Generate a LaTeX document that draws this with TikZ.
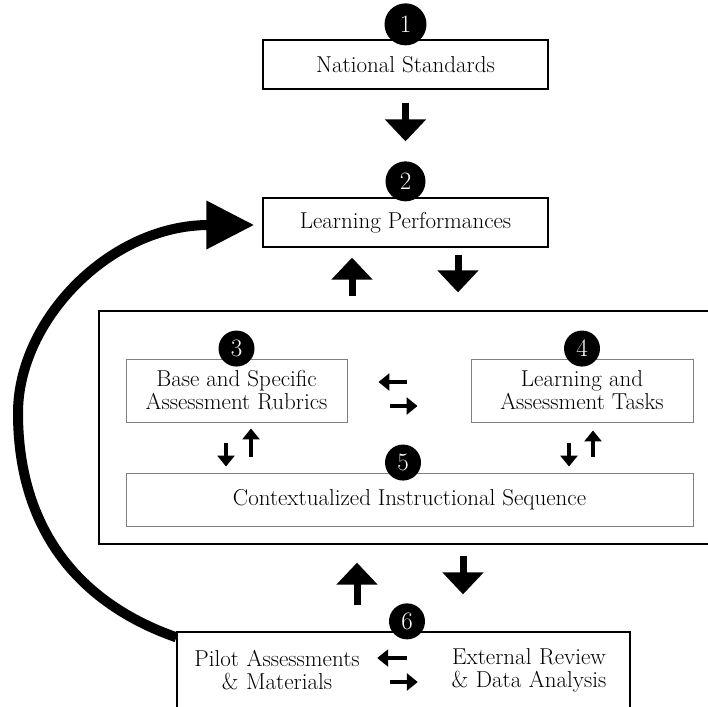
\documentclass[tikz,border=0pt]{standalone}
\usepackage{tikz}
\usetikzlibrary{arrows.meta, positioning, calc}

\begin{document}
\begin{tikzpicture}[
        x=1pt, y=-1pt,
        every node/.style = {font=\fontsize{23}{23}\selectfont},
        mainbox/.style = {rectangle, draw=black, line width=1.3pt, minimum width=285pt, minimum height=49pt, inner sep=0pt},
        subbox/.style = {rectangle, draw=black!50, line width=0.9pt, align=center, inner sep=0pt},
        num/.style = {circle, fill=black, text=white, minimum size=36pt, inner sep=0pt, font=\fontsize{25}{25}\selectfont},
        bigarrow/.style = {line width=7pt, -{Triangle[length=22pt, width=40pt]}},
        smallarrow/.style = {line width=3.5pt, -{Triangle[length=11pt, width=17pt]}},
        backarrow/.style = {line width=10pt, -{Triangle[length=48pt, width=46pt]}}
    ]

    \path[use as bounding box, clip] (0,0) rectangle (708,706);

    % --- BOXES ---

    \node[mainbox] (std) at (405.5,64.5) {National Standards};
    \node[num, minimum size=42pt] (n1) at ([yshift=15pt]std.north) {1};

    \node[mainbox] (perf) at (405.5,222.5) {Learning Performances};
    \node[num, minimum size=40pt] (n2) at ([yshift=16pt]perf.north) {2};

    % big frame round 3, 4 and 5 (right side runs off the page)
    \node[rectangle, draw=black, line width=1.3pt, minimum width=613pt, minimum height=233pt] (frame) at (405.5,427.5) {};

    \node[subbox, minimum width=221pt, minimum height=63pt] (rubric) at (236.5,390.5) {Base and Specific\\Assessment Rubrics};
    \node[num] (n3) at ([yshift=10pt]rubric.north) {3};

    \node[subbox, minimum width=222pt, minimum height=63pt] (tasks) at (582,390.5) {Learning and\\Assessment Tasks};
    \node[num] (n4) at ([yshift=10pt]tasks.north) {4};

    \node[subbox, minimum width=567pt, minimum height=53pt] (seq) at (409.5,499.5) {Contextualized Instructional Sequence};
    \node[num] (n5) at ([xshift=-6.5pt, yshift=10pt]seq.north) {5};

    % bottom box (cut off by the page)
    \node[rectangle, draw=black, line width=1.3pt, minimum width=453pt, minimum height=84pt] (review) at (403.5,674) {};
    \node[num] (n6) at ([xshift=3.5pt, yshift=10pt]review.north) {6};
    \node[text width=200pt, align=center, inner sep=0pt] (pilot) at (277,670) {Pilot Assessments\\\& Materials};
    \node[text width=200pt, align=center, inner sep=0pt] (extrev) at (529,670) {External Review\\\& Data Analysis};

    % --- ARROWS ---

    \draw[bigarrow] ([yshift=-13pt]std.south) -- ([yshift=56pt]perf.north);

    \draw[bigarrow] ([xshift=-53.5pt, yshift=14pt]frame.north) -- ([xshift=-53.5pt, yshift=-10pt]perf.south);
    \draw[bigarrow] ([xshift=52.5pt, yshift=-7pt]perf.south) -- ([xshift=52.5pt, yshift=18pt]frame.north);

    \draw[bigarrow] ([xshift=-46.5pt, yshift=26pt]review.north) -- ([xshift=-48.5pt, yshift=-18pt]frame.south);
    \draw[bigarrow] ([xshift=57.5pt, yshift=-11pt]frame.south) -- ([xshift=59.5pt, yshift=37pt]review.north);

    % inside the frame
    \draw[smallarrow, shorten <=64pt, shorten >=31pt] ([yshift=8.5pt]tasks.west) -- ([yshift=8.5pt]rubric.east);
    \draw[smallarrow, shorten <=43pt, shorten >=53pt] ([yshift=-15.5pt]rubric.east) -- ([yshift=-15.5pt]tasks.west);

    \draw[smallarrow, shorten <=21pt, shorten >=6pt] ([xshift=-10.5pt]rubric.south) -- ([xshift=-10.5pt]rubric.south |- seq.north);
    \draw[smallarrow, shorten <=16pt, shorten >=6pt] ([xshift=14.5pt]rubric.south |- seq.north) -- ([xshift=14.5pt]rubric.south);

    \draw[smallarrow, shorten <=21pt, shorten >=6pt] ([xshift=-13pt]tasks.south) -- ([xshift=-13pt]tasks.south |- seq.north);
    \draw[smallarrow, shorten <=16pt, shorten >=8pt] ([xshift=11pt]tasks.south |- seq.north) -- ([xshift=11pt]tasks.south);

    % inside the bottom box
    \draw[smallarrow, shorten <=22pt] ([yshift=12pt]extrev.west) -- ([yshift=12pt]pilot.east);
    \draw[smallarrow, shorten <=13pt, shorten >=11pt] ([yshift=-12pt]pilot.east) -- ([yshift=-12pt]extrev.west);

    % feedback loop back to the learning performances
    \draw[backarrow] ([yshift=-6pt]review.north west) .. controls (70,600) and (18,520) .. (18,413)
        .. controls (18,320) and (110,225) .. ([xshift=-8pt, yshift=-2.5pt]perf.west);

\end{tikzpicture}
\end{document}
